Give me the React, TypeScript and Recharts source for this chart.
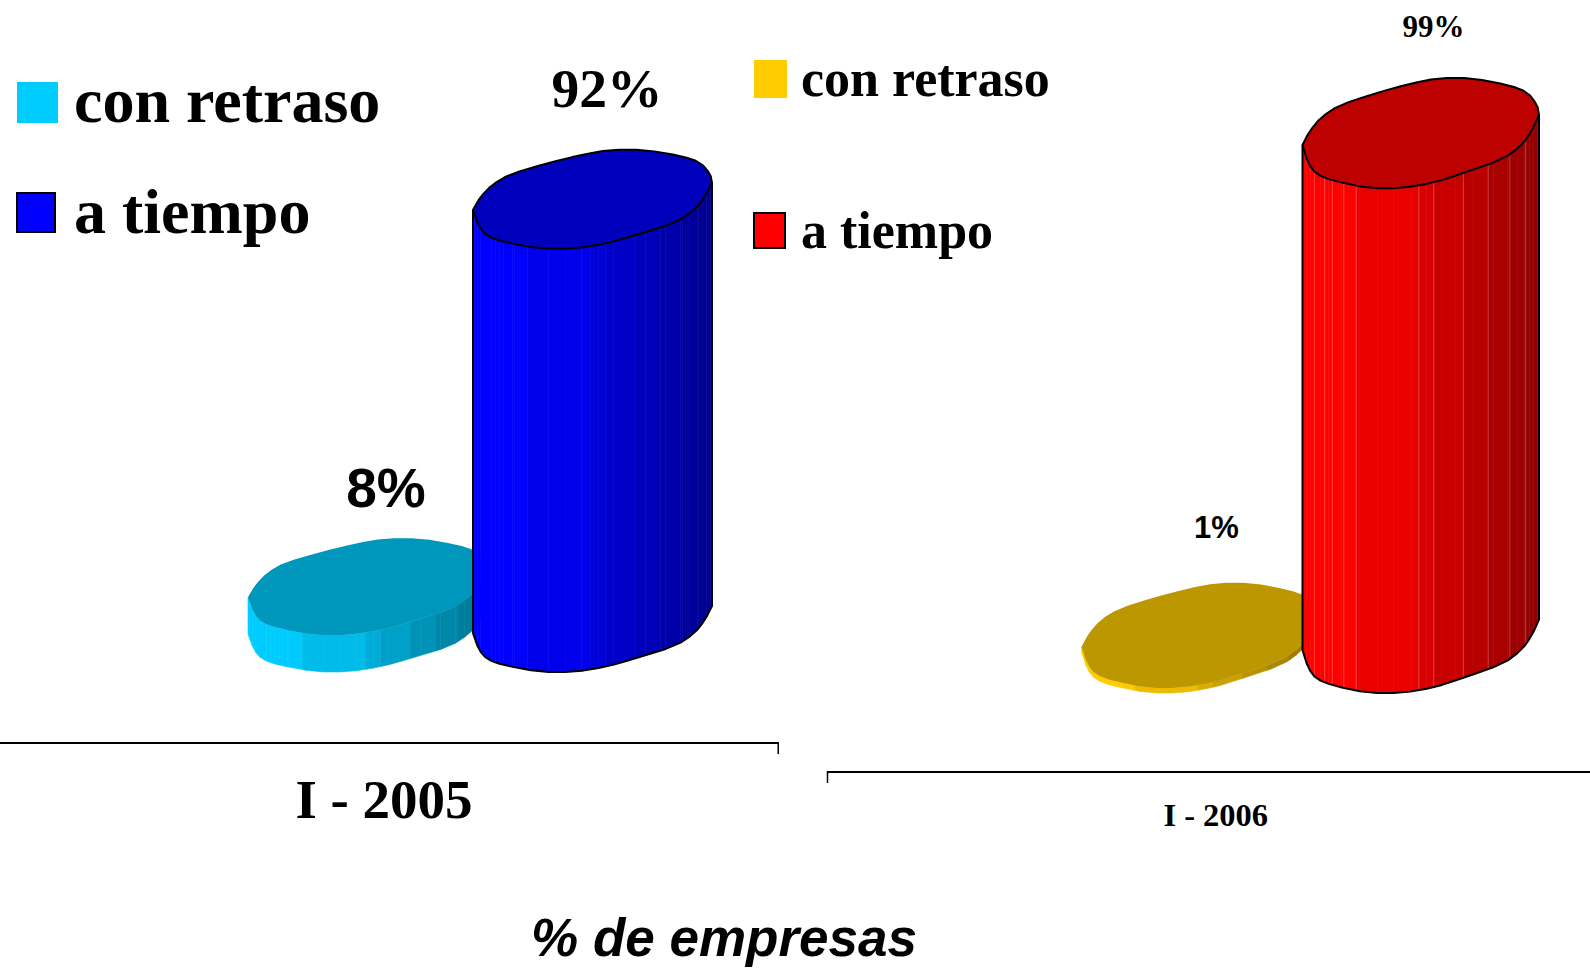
import React from "react";
import { BarChart, Bar, XAxis, YAxis, Legend, LabelList } from "recharts";

const periods2005 = ["I - 2005"];
const conRetraso2005 = [8];
const aTiempo2005 = [92];
const periods2006 = ["I - 2006"];
const conRetraso2006 = [1];
const aTiempo2006 = [99];
const seriesNames = ["con retraso", "a tiempo"];

const data2005 = periods2005.map((p, i) => ({ period: p, retraso: conRetraso2005[i], tiempo: aTiempo2005[i] }));
const data2006 = periods2006.map((p, i) => ({ period: p, retraso: conRetraso2006[i], tiempo: aTiempo2006[i] }));

const SERIF = "'Liberation Serif', serif";
const SANS = "'Liberation Sans', sans-serif";

// Rounds the corners of an open outline while keeping its two end points.
const rounded = (pts: [number, number][]): [number, number][] => {
  const out: [number, number][] = [pts[0]];
  for (let i = 0; i < pts.length - 1; i++) {
    const [a, b] = pts[i];
    const [c, d] = pts[i + 1];
    out.push([a * 0.75 + c * 0.25, b * 0.75 + d * 0.25]);
    out.push([a * 0.25 + c * 0.75, b * 0.25 + d * 0.75]);
  }
  out.push(pts[pts.length - 1]);
  return out;
};

// Outline of the oblique cylinder cap, normalised to its bounding box (x: 0..1, y: 0..1).
const upperEdge = rounded([
  [0, 0.61], [0.03, 0.48], [0.08, 0.35], [0.156, 0.24], [0.31, 0.13], [0.45, 0.044], [0.574, -0.01], [0.72, -0.01],
  [0.875, 0.056], [0.951, 0.119], [0.993, 0.24], [1, 0.33],
]);
const lowerEdge = rounded([
  [0, 0.61], [0.024, 0.78], [0.059, 0.88], [0.128, 0.94], [0.281, 1.01], [0.42, 1.01], [0.56, 0.956], [0.678, 0.87],
  [0.849, 0.74], [0.927, 0.61], [0.969, 0.48], [1, 0.33],
]);
const facets = [0, 0.05, 0.094, 0.126, 0.175, 0.227, 0.492, 0.555, 0.68, 0.785, 0.877, 0.944, 1];
const stripStops = Array.from(new Set([...facets, ...lowerEdge.map((p) => p[0])])).sort((a, b) => a - b);

const lowerY = (f: number) => {
  for (let i = 1; i < lowerEdge.length; i++) {
    const [x0, y0] = lowerEdge[i - 1];
    const [x1, y1] = lowerEdge[i];
    if (f <= x1) return y0 + ((y1 - y0) * (f - x0)) / (x1 - x0 || 1);
  }
  return lowerEdge[lowerEdge.length - 1][1];
};

const brightness = (f: number) => {
  if (f < 0.18) return 1;
  if (f < 0.5) return 1 - ((f - 0.18) / 0.32) * 0.14;
  return 0.86 - ((f - 0.5) / 0.5) * 0.3;
};

const facetMid = (f: number) => {
  for (let i = 1; i < facets.length; i++) {
    if (f <= facets[i]) return (facets[i - 1] + facets[i]) / 2;
  }
  return 1;
};

const shade = (rgb: number[], k: number) => `rgb(${rgb.map((c) => Math.round(c * k)).join(",")})`;

type Look = { rgb: number[]; outline: boolean; facetLine?: string; depth: number; capH: number; lift: number };

const Cylinder = (props: any & { look: Look }) => {
  const { x, y, width, height, look } = props;
  const W = width + look.depth;
  const top = y - look.lift - look.capH;
  const H = look.capH;
  const px = (f: number) => x + f * W;
  const py = (v: number) => top + v * H;
  const capPts = [...upperEdge, ...lowerEdge.slice(1, -1).reverse()]
    .map(([a, b]) => `${px(a)},${py(b)}`)
    .join(" ");
  const strips = stripStops.slice(1).map((f1, i) => {
    const f0 = stripStops[i];
    const a = py(lowerY(f0));
    const b = py(lowerY(f1));
    const pts = `${px(f0)},${a} ${px(f1)},${b} ${px(f1)},${b + height} ${px(f0)},${a + height}`;
    const c = shade(look.rgb, brightness(facetMid((f0 + f1) / 2)));
    return <polygon key={i} points={pts} fill={c} stroke={c} strokeWidth={0.6} />;
  });
  const lines = look.facetLine
    ? facets.slice(1, -1).map((f, i) => (
        <line key={i} x1={px(f)} x2={px(f)} y1={py(lowerY(f))} y2={py(lowerY(f)) + height} stroke={look.facetLine} strokeWidth={1} />
      ))
    : null;
  const bottomPts = lowerEdge.map(([a, b]) => `${px(a)},${py(b) + height}`).join(" ");
  const sidePts = `${px(0)},${py(0.61)} ${bottomPts} ${px(1)},${py(0.33)}`;
  return (
    <g>
      {strips}
      {lines}
      {look.outline && <polyline points={sidePts} fill="none" stroke="#000" strokeWidth={2} strokeLinejoin="round" />}
      <polygon
        points={capPts}
        fill={shade(look.rgb, 0.74)}
        stroke={look.outline ? "#000" : "none"}
        strokeWidth={look.outline ? 2 : 0}
        strokeLinejoin="round"
      />
    </g>
  );
};

const ValueLabel = (props: any) => {
  const { x, y, width, value, style } = props;
  return (
    <text
      x={x + width / 2 + style.dx}
      y={y - style.above}
      textAnchor="middle"
      fontFamily={style.family}
      fontWeight="bold"
      fontSize={style.size}
      fill="#000"
    >
      {`${value}%`}
    </text>
  );
};

const AxisTick = (props: any) => {
  const { x, y, payload, size, dy, edgeDx, edgeLen } = props;
  return (
    <g>
      <line x1={x + edgeDx} x2={x + edgeDx} y1={y - 9} y2={y - 9 + edgeLen} stroke="#000" strokeWidth={1.5} />
      <text x={x} y={y + dy} textAnchor="middle" fontFamily={SERIF} fontWeight="bold" fontSize={size} fill="#000">
        {payload.value}
      </text>
    </g>
  );
};

const makeLegend = (cfg: any) => (props: any) => {
  const items = props.payload || [];
  return (
    <svg width={cfg.w} height={cfg.h} style={{ display: "block" }}>
      {items.map((it: any, i: number) => {
        const r = cfg.rows[i];
        return (
          <g key={i}>
            <rect
              x={r.sx}
              y={r.sy}
              width={r.sw}
              height={r.sh}
              fill={it.color}
              stroke={r.outline ? "#000" : "none"}
              strokeWidth={r.outline ? 2 : 0}
            />
            <text x={cfg.textX} y={r.base} fontFamily={SERIF} fontWeight="bold" fontSize={cfg.size} fill="#000">
              {it.value}
            </text>
          </g>
        );
      })}
    </svg>
  );
};

const legend2005 = makeLegend({
  w: 470,
  h: 300,
  textX: 74,
  size: 64,
  rows: [
    { sx: 17, sy: 82, sw: 41, sh: 41, outline: false, base: 122 },
    { sx: 17, sy: 193, sw: 38, sh: 39, outline: true, base: 233 },
  ],
});
const legend2006 = makeLegend({
  w: 330,
  h: 300,
  textX: 61,
  size: 52,
  rows: [
    { sx: 14, sy: 60, sw: 33, sh: 38, outline: false, base: 96 },
    { sx: 14, sy: 213, sw: 31, sh: 35, outline: true, base: 248 },
  ],
});

const lookBase2005 = { depth: 191, capH: 97, lift: 72 };
const lookBase2006 = { depth: 188.5, capH: 108, lift: 80 };

const abs = (left: number, top: number): React.CSSProperties => ({ position: "absolute", left, top });

export default function App() {
  return (
    <div style={{ position: "fixed", left: 0, top: 0, width: 1590, height: 968, overflow: "hidden", background: "#fff" }}>
      <div style={abs(-11, 0)}>
        <BarChart
          width={790}
          height={968}
          data={data2005}
          margin={{ top: 0, right: 0, bottom: 0, left: 0 }}
          barSize={48}
          barGap={177}
        >
          <XAxis
            dataKey="period"
            height={225}
            axisLine={{ stroke: "#000", strokeWidth: 2 }}
            tickLine={false}
            interval={0}
            tick={<AxisTick size={55} dy={67} edgeDx={394.25} edgeLen={12} />}
          />
          <YAxis hide domain={[0, 161.5]} />
          <Legend
            layout="vertical"
            align="center"
            verticalAlign="middle"
            itemSorter={null}
            wrapperStyle={{ left: 11, top: 0, width: 470, height: 300 }}
            content={legend2005}
          />
          <Bar
            dataKey="retraso"
            name={seriesNames[0]}
            fill="#00CCFF"
            isAnimationActive={false}
            shape={<Cylinder look={{ ...lookBase2005, capH: 95, rgb: [0, 204, 255], outline: false }} />}
          >
            <LabelList
              dataKey="retraso"
              content={<ValueLabel style={{ dx: 114, above: 199, family: SANS, size: 55 }} />}
            />
          </Bar>
          <Bar
            dataKey="tiempo"
            name={seriesNames[1]}
            fill="#0000FF"
            isAnimationActive={false}
            shape={<Cylinder look={{ ...lookBase2005, rgb: [0, 0, 255], outline: true }} />}
          >
            <LabelList
              dataKey="tiempo"
              content={<ValueLabel style={{ dx: 110, above: 213, family: SERIF, size: 55.5 }} />}
            />
          </Bar>
        </BarChart>
      </div>

      <div style={abs(740, 0)}>
        <BarChart
          width={864}
          height={968}
          data={data2006}
          margin={{ top: 0, right: 0, bottom: 0, left: 87.5 }}
          barSize={48}
          barGap={173}
        >
          <XAxis
            dataKey="period"
            height={196}
            axisLine={{ stroke: "#000", strokeWidth: 2 }}
            tickLine={false}
            interval={0}
            tick={<AxisTick size={32.5} dy={46} edgeDx={-388.25} edgeLen={12} />}
          />
          <YAxis hide domain={[0, 151.4]} />
          <Legend
            layout="vertical"
            align="center"
            verticalAlign="middle"
            itemSorter={null}
            wrapperStyle={{ left: 0, top: 0, width: 330, height: 300 }}
            content={legend2006}
          />
          <Bar
            dataKey="retraso"
            name={seriesNames[0]}
            fill="#FFCC00"
            isAnimationActive={false}
            shape={<Cylinder look={{ ...lookBase2006, capH: 103, rgb: [255, 204, 0], outline: false }} />}
          >
            <LabelList
              dataKey="retraso"
              content={<ValueLabel style={{ dx: 111, above: 229, family: SANS, size: 31 }} />}
            />
          </Bar>
          <Bar
            dataKey="tiempo"
            name={seriesNames[1]}
            fill="#FF0000"
            isAnimationActive={false}
            shape={<Cylinder look={{ ...lookBase2006, rgb: [255, 0, 0], outline: true, facetLine: "rgba(255,255,255,0.22)" }} />}
          >
            <LabelList
              dataKey="tiempo"
              content={<ValueLabel style={{ dx: 107, above: 230, family: SERIF, size: 31 }} />}
            />
          </Bar>
        </BarChart>
      </div>

      <svg width={1590} height={968} style={{ ...abs(0, 0), pointerEvents: "none" }}>
        <text
          x={724}
          y={956}
          textAnchor="middle"
          fontFamily={SANS}
          fontWeight="bold"
          fontStyle="italic"
          fontSize={53}
          fill="#000"
        >
          % de empresas
        </text>
      </svg>
    </div>
  );
}
